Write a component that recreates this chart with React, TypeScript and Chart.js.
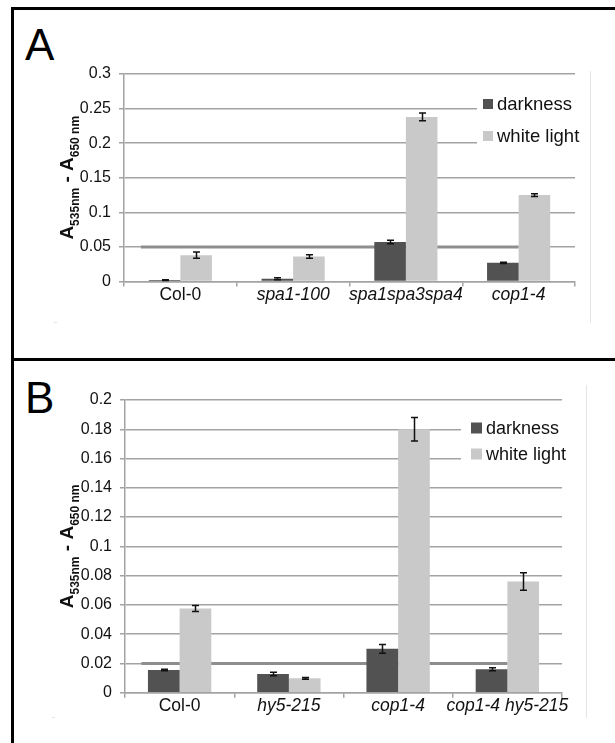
import React, { useEffect, useRef } from "react";
import { Chart, registerables } from "chart.js";

Chart.register(...registerables);

const FONT = '"Liberation Sans", Arial, Helvetica, sans-serif';

// ---- Panel A: anthocyanin in spa / cop1 mutants ----
const categoriesA = ["Col-0", "spa1-100", "spa1spa3spa4", "cop1-4"];
const darknessA = [0.002, 0.004, 0.057, 0.027];
const darknessErrA = [0.0005, 0.0015, 0.0025, 0.001];
const whiteLightA = [0.038, 0.036, 0.238, 0.125];
const whiteLightErrA = [0.0045, 0.0025, 0.0055, 0.002];
const yTickLabelsA = ["0", "0.05", "0.1", "0.15", "0.2", "0.25", "0.3"];
const yMaxA = 0.3;
const yStepA = 0.05;
const refLineA = 0.05;

// ---- Panel B: anthocyanin in hy5 / cop1 mutants ----
const categoriesB = ["Col-0", "hy5-215", "cop1-4", "cop1-4 hy5-215"];
const darknessB = [0.0155, 0.0128, 0.03, 0.016];
const darknessErrB = [0.0005, 0.0012, 0.003, 0.001];
const whiteLightB = [0.0575, 0.0098, 0.18, 0.076];
const whiteLightErrB = [0.002, 0.0006, 0.008, 0.006];
const yTickLabelsB = ["0", "0.02", "0.04", "0.06", "0.08", "0.1", "0.12", "0.14", "0.16", "0.18", "0.2"];
const yMaxB = 0.2;
const yStepB = 0.02;
const refLineB = 0.02;

const seriesNames = ["darkness", "white light"];
const seriesColors = ["#525252", "#c9c9c9"];

// y-axis title pieces: [text, isSubscript]
const yTitleParts: [string, boolean][] = [
  ["A", false],
  ["535nm", true],
  [" - ", false],
  ["A", false],
  ["650 nm", true],
];

const GRID = "#a3a3a3";

type Spec = {
  left: number;
  top: number;
  w: number;
  h: number;
  pad: { top: number; right: number };
  yAxisWidth: number;
  xAxisHeight: number;
  categories: string[];
  series: number[][];
  errors: number[][];
  yTicks: string[];
  yMax: number;
  yStep: number;
  refLine: number;
  categoryPercentage: number;
  legend: { bx: number; by: number; bw: number; bh: number; rows: number[]; sqX: number; sq: number; textX: number; size: number };
  titleX: number;
  frame: { x: number; y0: number; y1: number; cornerX: number };
};

function makePlugin(spec: Spec) {
  return {
    id: "panelDecor",
    beforeDatasetsDraw(chart: any) {
      const { ctx } = chart;
      const x = chart.scales.x;
      const y = chart.scales.y;
      const yy = y.getPixelForValue(spec.refLine);
      ctx.save();
      ctx.strokeStyle = "#8e8e8e";
      ctx.lineWidth = 3;
      ctx.beginPath();
      ctx.moveTo(x.getPixelForValue(-0.35), yy);
      ctx.lineTo(x.getPixelForValue(3), yy);
      ctx.stroke();
      ctx.restore();
    },
    afterDatasetsDraw(chart: any) {
      const { ctx } = chart;
      const y = chart.scales.y;
      // error bars
      ctx.save();
      ctx.strokeStyle = "#111";
      ctx.lineWidth = 1.5;
      spec.series.forEach((vals, di) => {
        const meta = chart.getDatasetMeta(di);
        meta.data.forEach((bar: any, i: number) => {
          const v = vals[i];
          const e = spec.errors[di][i];
          const yTop = y.getPixelForValue(v + e);
          const yBot = y.getPixelForValue(v - e);
          const cx = Math.round(bar.x) + 0.5;
          ctx.beginPath();
          ctx.moveTo(cx, yTop);
          ctx.lineTo(cx, yBot);
          ctx.moveTo(cx - 3.5, yTop);
          ctx.lineTo(cx + 3.5, yTop);
          ctx.moveTo(cx - 3.5, yBot);
          ctx.lineTo(cx + 3.5, yBot);
          ctx.stroke();
        });
      });
      ctx.restore();

      // legend
      const L = spec.legend;
      ctx.save();
      ctx.fillStyle = "#fff";
      ctx.fillRect(L.bx, L.by, L.bw, L.bh);
      ctx.font = `${L.size}px ${FONT}`;
      ctx.textBaseline = "middle";
      ctx.textAlign = "left";
      seriesNames.forEach((name, i) => {
        ctx.fillStyle = seriesColors[i];
        ctx.fillRect(L.sqX, L.rows[i] - L.sq / 2, L.sq, L.sq);
        ctx.fillStyle = "#111";
        ctx.fillText(name, L.textX, L.rows[i] + 1);
      });
      ctx.restore();
    },
    afterDraw(chart: any) {
      const { ctx, chartArea } = chart;
      // faint outer frame of the plot region
      ctx.save();
      ctx.strokeStyle = "#e4e4e4";
      ctx.lineWidth = 1;
      ctx.beginPath();
      ctx.moveTo(spec.frame.x + 0.5, spec.frame.y0);
      ctx.lineTo(spec.frame.x + 0.5, spec.frame.y1);
      ctx.moveTo(spec.frame.cornerX, spec.frame.y1 - 0.5);
      ctx.lineTo(spec.frame.cornerX + 3, spec.frame.y1 - 0.5);
      ctx.stroke();
      ctx.restore();

      // rotated y-axis title with subscripts
      const mainFont = `bold 19px ${FONT}`;
      const subFont = `bold 12px ${FONT}`;
      ctx.save();
      let total = 0;
      const widths = yTitleParts.map(([t, sub]) => {
        ctx.font = sub ? subFont : mainFont;
        const w = ctx.measureText(t).width;
        total += w;
        return w;
      });
      const cy = (chartArea.top + chartArea.bottom) / 2;
      ctx.translate(spec.titleX, cy);
      ctx.rotate(-Math.PI / 2);
      ctx.fillStyle = "#111";
      ctx.textBaseline = "alphabetic";
      ctx.textAlign = "left";
      let px = -total / 2;
      yTitleParts.forEach(([t, sub], i) => {
        ctx.font = sub ? subFont : mainFont;
        ctx.fillText(t, px, sub ? 6 : 0);
        px += widths[i];
      });
      ctx.restore();
    },
  };
}

function Panel({ spec }: { spec: Spec }) {
  const ref = useRef<HTMLCanvasElement>(null);
  useEffect(() => {
    const canvas = ref.current;
    if (!canvas) return;
    const chart = new Chart(canvas, {
      type: "bar",
      data: {
        labels: spec.categories,
        datasets: spec.series.map((vals, i) => ({
          label: seriesNames[i],
          data: vals,
          backgroundColor: seriesColors[i],
          borderWidth: 0,
          barPercentage: 1,
          categoryPercentage: spec.categoryPercentage,
        })),
      },
      options: {
        animation: false,
        responsive: false,
        devicePixelRatio: 1,
        events: [],
        layout: { padding: { top: spec.pad.top, right: spec.pad.right, left: 0, bottom: 0 } },
        plugins: {
          legend: { display: false },
          tooltip: { enabled: false },
          title: { display: false },
        },
        scales: {
          x: {
            afterFit(scale: any) {
              scale.height = spec.xAxisHeight;
            },
            grid: {
              display: true,
              drawOnChartArea: false,
              drawTicks: true,
              tickLength: 5,
              color: GRID,
              lineWidth: 1.5,
              offset: true,
            },
            border: { display: true, color: GRID, width: 1.5 },
            ticks: {
              autoSkip: false,
              maxRotation: 0,
              minRotation: 0,
              padding: -2,
              color: "#111",
              font: (ctx: any) => ({
                family: FONT,
                size: 17.5,
                style: ctx.index === 0 ? "normal" : "italic",
              }),
            },
          },
          y: {
            min: 0,
            max: spec.yMax,
            afterFit(scale: any) {
              scale.width = spec.yAxisWidth;
            },
            grid: {
              color: GRID,
              lineWidth: 1.5,
              drawTicks: true,
              tickLength: 5,
            },
            border: { display: true, color: GRID, width: 1.5 },
            ticks: {
              stepSize: spec.yStep,
              padding: 8,
              color: "#111",
              font: { family: FONT, size: 16 },
              callback: (_v: any, i: number) => spec.yTicks[i],
            },
          },
        },
      },
      plugins: [makePlugin(spec)],
    } as any);
    return () => chart.destroy();
  }, [spec]);
  return (
    <canvas
      ref={ref}
      width={spec.w}
      height={spec.h}
      style={{ position: "absolute", left: spec.left, top: spec.top, width: spec.w, height: spec.h }}
    />
  );
}

const specA: Spec = {
  left: 14,
  top: 10,
  w: 601,
  h: 348,
  pad: { top: 64, right: 40 },
  yAxisWidth: 110,
  xAxisHeight: 76.5,
  categories: categoriesA,
  series: [darknessA, whiteLightA],
  errors: [darknessErrA, whiteLightErrA],
  yTicks: yTickLabelsA,
  yMax: yMaxA,
  yStep: yStepA,
  refLine: refLineA,
  categoryPercentage: 0.56,
  legend: { bx: 463, by: 82, bw: 138, bh: 58, rows: [94, 126], sqX: 469, sq: 10, textX: 483, size: 18.5 },
  titleX: 59,
  frame: { x: 576, y0: 61, y1: 313, cornerX: 40 },
};

const specB: Spec = {
  left: 14,
  top: 361,
  w: 601,
  h: 382,
  pad: { top: 39, right: 53 },
  yAxisWidth: 111,
  xAxisHeight: 50.3,
  categories: categoriesB,
  series: [darknessB, whiteLightB],
  errors: [darknessErrB, whiteLightErrB],
  yTicks: yTickLabelsB,
  yMax: yMaxB,
  yStep: yStepB,
  refLine: refLineB,
  categoryPercentage: 0.58,
  legend: { bx: 447, by: 51, bw: 154, bh: 58, rows: [67, 93], sqX: 457, sq: 11, textX: 472, size: 18 },
  titleX: 59,
  frame: { x: 572, y0: 24, y1: 357, cornerX: 38 },
};

const letterStyle: React.CSSProperties = {
  position: "absolute",
  fontFamily: FONT,
  fontSize: 44,
  lineHeight: "44px",
  color: "#000",
};

export default function App() {
  return (
    <div
      style={{
        position: "absolute",
        left: 0,
        top: 0,
        width: 615,
        height: 743,
        overflow: "hidden",
        background: "#fff",
      }}
    >
      <div
        style={{
          position: "absolute",
          left: 11,
          top: 7,
          width: 640,
          height: 354,
          border: "3px solid #000",
          boxSizing: "border-box",
        }}
      />
      <div
        style={{
          position: "absolute",
          left: 11,
          top: 358,
          width: 640,
          height: 420,
          border: "3px solid #000",
          boxSizing: "border-box",
        }}
      />
      <div style={{ ...letterStyle, left: 25, top: 23 }}>A</div>
      <div style={{ ...letterStyle, left: 25, top: 376 }}>B</div>
      <Panel spec={specA} />
      <Panel spec={specB} />
    </div>
  );
}
